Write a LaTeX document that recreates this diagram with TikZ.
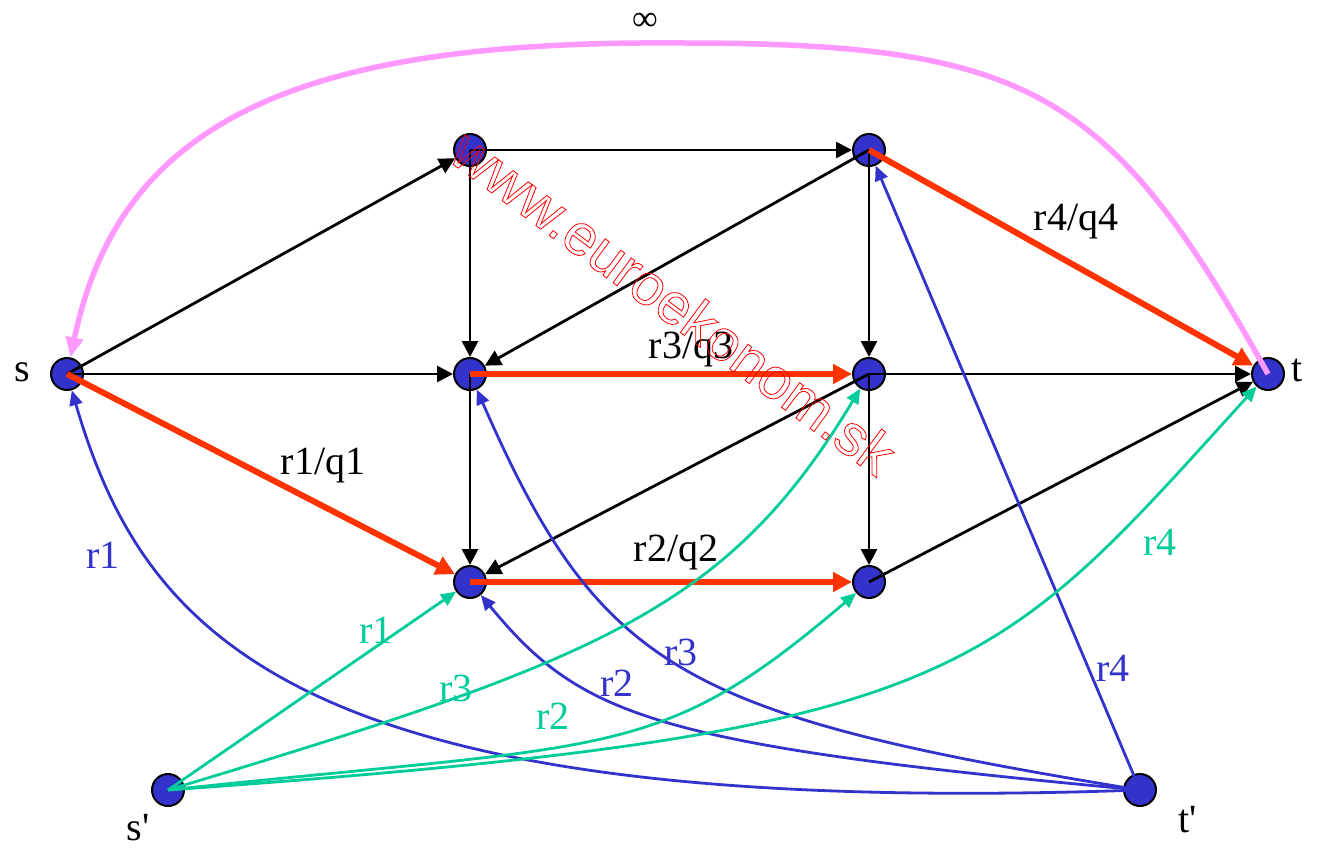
\documentclass[tikz,border=0pt]{standalone}
\usepackage{fontspec}
\setmainfont{Liberation Serif}
\newfontfamily\wmfont{Liberation Sans}
\usetikzlibrary{arrows.meta}
\definecolor{nodeblue}{RGB}{51,51,204}
\definecolor{flowred}{RGB}{255,51,0}
\definecolor{demgreen}{RGB}{0,204,153}
\definecolor{infpink}{RGB}{255,153,255}
\newcommand{\outlinetext}[1]{\special{pdf:literal direct 1 Tr 0.8 w}#1\special{pdf:literal direct 0 Tr}}
\tikzset{
  vtx/.style={circle,draw=black,fill=nodeblue,minimum size=32pt,inner sep=0pt,line width=2pt},
  lbl/.style={font=\fontsize{40}{48}\selectfont,inner sep=0pt},
  blk/.style={draw=black,line width=2.8pt,-{Triangle[length=16pt,width=16pt]}},
  redflow/.style={draw=flowred,line width=6pt,-{Triangle[length=19pt,width=19pt]}},
  bluearc/.style={draw=nodeblue,line width=2.8pt,-{Triangle[length=15pt,width=13pt]}},
  greenarc/.style={draw=demgreen,line width=2.8pt,-{Triangle[length=15pt,width=13pt]}},
  pinkarc/.style={draw=infpink,line width=5.5pt,-{Triangle[length=20pt,width=17pt]}},
}
\begin{document}
\begin{tikzpicture}[x=1pt,y=-1pt]
\useasboundingbox (0,0) rectangle (1319,850);
% vertices
\node[vtx] (s) at (67,374) {};
\node[vtx] (a) at (470,150) {};
\node[vtx] (b) at (869,150) {};
\node[vtx] (c) at (470,374) {};
\node[vtx] (d) at (869,374) {};
\node[vtx] (t) at (1268,374) {};
\node[vtx] (e) at (470,582) {};
\node[vtx] (f) at (869,582) {};
\node[vtx] (sp) at (168,790) {};
\node[vtx] (tp) at (1140,790) {};
% vertex labels
\node[lbl] (ls) at (22,372) {s};
\node[lbl] (lt) at (1297,370) {t};
\node[lbl] (lsp) at (138,828) {s\textquotesingle};
\node[lbl] (ltp) at (1188,820) {t\textquotesingle};
\node[lbl,font=\fontsize{36}{40}\selectfont] (linf) at (645,22) {∞};
% infinite arc
\draw[pinkarc] (t.center) .. controls (1110,90) and (1030,43) .. (680,43)
  .. controls (300,40) and (120,120) .. (s);
% black edges
\draw[blk] (s.center) -- (a);
\draw[blk] (s.center) -- (c);
\draw[blk] (a.center) -- (b);
\draw[blk] (a.center) -- (c);
\draw[blk] (b.center) -- (c);
\draw[blk] (b.center) -- (d);
\draw[blk] (c.center) -- (e);
\draw[blk] (d.center) -- (t);
\draw[blk] (d.center) -- (e);
\draw[blk] (d.center) -- (f);
\draw[blk] (f.center) -- (t);
% red flow edges
\draw[redflow] (s.center) -- (e);
\draw[redflow] (c.center) -- (d);
\draw[redflow] (e.center) -- (f);
\draw[redflow] (b.center) -- (t);
% blue arcs from t'
\draw[bluearc] (tp.center) .. controls (300,820) and (145,640) .. (s);
\draw[bluearc] (tp.center) .. controls (650,745) and (580,715) .. (e);
\draw[bluearc] (tp.center) .. controls (680,715) and (600,670) .. (c);
\draw[bluearc] (tp.center) -- (b);
% green arcs from s'
\draw[greenarc] (sp.center) -- (e);
\draw[greenarc] (sp.center) .. controls (599,660) and (727,610) .. (d);
\draw[greenarc] (sp.center) .. controls (615,742) and (657,763) .. (f);
\draw[greenarc] (sp.center) .. controls (966,733) and (989,681) .. (t);
% edge labels
\node[lbl] (l1) at (323,466) {r1/q1};
\node[lbl] (l2) at (676,553) {r2/q2};
\node[lbl] (l3) at (691,350) {r3/q3};
\node[lbl] (l4) at (1076,222) {r4/q4};
\node[lbl,text=nodeblue] (b1) at (103,555) {r1};
\node[lbl,text=nodeblue] (b2) at (617,683) {r2};
\node[lbl,text=nodeblue] (b3) at (681,652) {r3};
\node[lbl,text=nodeblue] (b4) at (1113,668) {r4};
\node[lbl,text=demgreen] (g1) at (376,630) {r1};
\node[lbl,text=demgreen] (g3) at (456,688) {r3};
\node[lbl,text=demgreen] (g2) at (553,716) {r2};
\node[lbl,text=demgreen] (g4) at (1160,542) {r4};
% watermark
\node[rotate=-36.5,inner sep=0pt,text=red,font=\wmfont\fontsize{58}{60}\selectfont] (wm) at (674,302)
  {\outlinetext{www.euroekonom.sk}};
\end{tikzpicture}
\end{document}
